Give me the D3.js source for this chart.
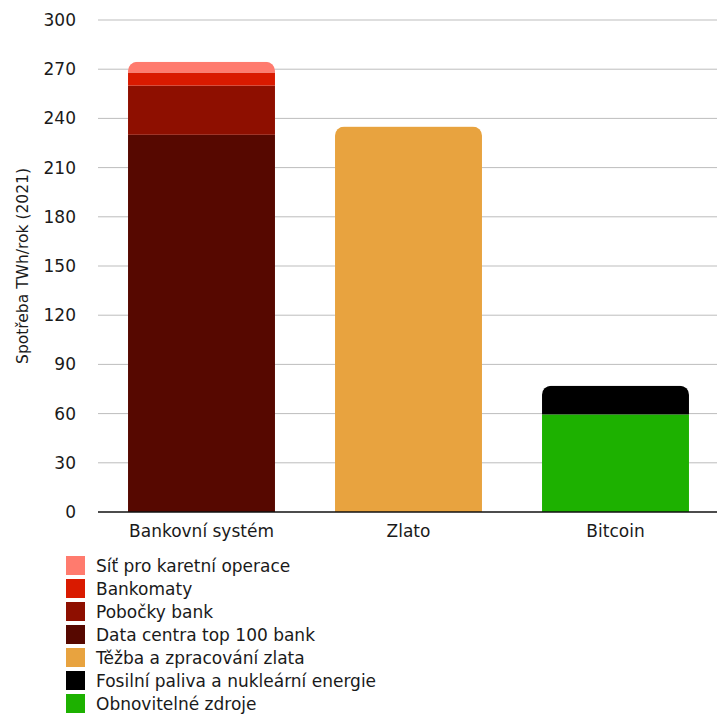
<!DOCTYPE html>
<html><head><meta charset="utf-8">
<script src="https://cdn.jsdelivr.net/npm/d3@7"></script>
<style>body{margin:0;background:#fff}svg{display:block;font-family:"DejaVu Sans",sans-serif}</style>
</head><body><svg id="c" width="717" height="716"></svg>
<script>
const categories = ["Bankovní systém", "Zlato", "Bitcoin"];
const seriesNames = ["Data centra top 100 bank", "Pobočky bank", "Bankomaty", "Síť pro karetní operace", "Těžba a zpracování zlata", "Obnovitelné zdroje", "Fosilní paliva a nukleární energie"];
const seriesColors = ["#560800", "#8E0F00", "#D91A00", "#FF7B6E", "#E8A33F", "#1DB100", "#000000"];
// values per series, in category order
const dataCentra = [230, 0, 0];
const pobocky = [30, 0, 0];
const bankomaty = [8, 0, 0];
const sitKaret = [6.5, 0, 0];
const tezbaZlata = [0, 235, 0];
const obnovitelne = [0, 0, 59.5];
const fosilni = [0, 0, 17.5];
const yTicks = [0, 30, 60, 90, 120, 150, 180, 210, 240, 270, 300];
const legendOrder = ["Síť pro karetní operace", "Bankomaty", "Pobočky bank", "Data centra top 100 bank", "Těžba a zpracování zlata", "Fosilní paliva a nukleární energie", "Obnovitelné zdroje"];

const seriesVals = [dataCentra, pobocky, bankomaty, sitKaret, tezbaZlata, obnovitelne, fosilni];
const rows = categories.map((c, i) => {
  const o = {cat: c};
  seriesNames.forEach((s, j) => o[s] = seriesVals[j][i]);
  return o;
});
const stack = d3.stack().keys(seriesNames)(rows);

const svg = d3.select("#c");
const x = d3.scaleBand().domain(categories).range([98, 719]).paddingInner(0.29).paddingOuter(0.145);
const y = d3.scaleLinear().domain([0, 300]).range([512, 20]);
const FONT = "DejaVu Sans, sans-serif";

// grid
svg.append("g").selectAll("line").data(yTicks.filter(t => t > 0)).join("line")
  .attr("x1", 98).attr("x2", 717).attr("y1", d => y(d)).attr("y2", d => y(d))
  .attr("stroke", "#bdbdbd").attr("stroke-width", 1);

// y tick labels
const yAxis = svg.append("g").attr("transform", "translate(98,0)")
  .call(d3.axisLeft(y).tickValues(yTicks).tickSize(0).tickPadding(22));
yAxis.select(".domain").remove();
yAxis.selectAll("text").attr("font-size", 17).attr("fill", "#1a1a1a").attr("font-family", FONT);

// clip paths for rounded tops
const defs = svg.append("defs");
const totals = rows.map(r => seriesNames.reduce((a, s) => a + r[s], 0));
const r = 9;
categories.forEach((c, i) => {
  const x0 = x(c), w = x.bandwidth(), yt = y(totals[i]), yb = y(0);
  const p = d3.path();
  p.moveTo(x0, yb); p.lineTo(x0, yt + r);
  p.arcTo(x0, yt, x0 + r, yt, r);
  p.lineTo(x0 + w - r, yt);
  p.arcTo(x0 + w, yt, x0 + w, yt + r, r);
  p.lineTo(x0 + w, yb); p.closePath();
  defs.append("clipPath").attr("id", "clip" + i).append("path").attr("d", p.toString());
});

const barsG = svg.append("g");
categories.forEach((c, i) => {
  const g = barsG.append("g").attr("clip-path", `url(#clip${i})`);
  stack.forEach((layer, j) => {
    const d = layer[i];
    if (d[1] - d[0] <= 0) return;
    g.append("rect").attr("x", x(c)).attr("width", x.bandwidth())
      .attr("y", y(d[1])).attr("height", y(d[0]) - y(d[1]))
      .attr("fill", seriesColors[j]);
  });
});

// zero line
svg.append("line").attr("x1", 98).attr("x2", 717).attr("y1", y(0)).attr("y2", y(0))
  .attr("stroke", "#111").attr("stroke-width", 1.5);

// x labels
const xAxis = svg.append("g").attr("transform", `translate(0,${y(0)})`)
  .call(d3.axisBottom(x).tickSize(0).tickPadding(13));
xAxis.select(".domain").remove();
xAxis.selectAll("text").attr("font-size", 17).attr("fill", "#1a1a1a").attr("font-family", FONT);

// y title
svg.append("text").attr("transform", "translate(28,266) rotate(-90)")
  .attr("text-anchor", "middle").attr("font-size", 15.5).attr("fill", "#1a1a1a")
  .text("Spotřeba TWh/rok (2021)");

// legend
const lg = svg.append("g").attr("transform", "translate(66,556)");
legendOrder.forEach((name, i) => {
  const row = lg.append("g").attr("transform", `translate(0,${i * 23})`);
  row.append("rect").attr("width", 19).attr("height", 19).attr("fill", seriesColors[seriesNames.indexOf(name)]);
  row.append("text").attr("x", 30).attr("y", 16).attr("font-size", 17).attr("fill", "#1a1a1a").text(name);
});
</script></body></html>
